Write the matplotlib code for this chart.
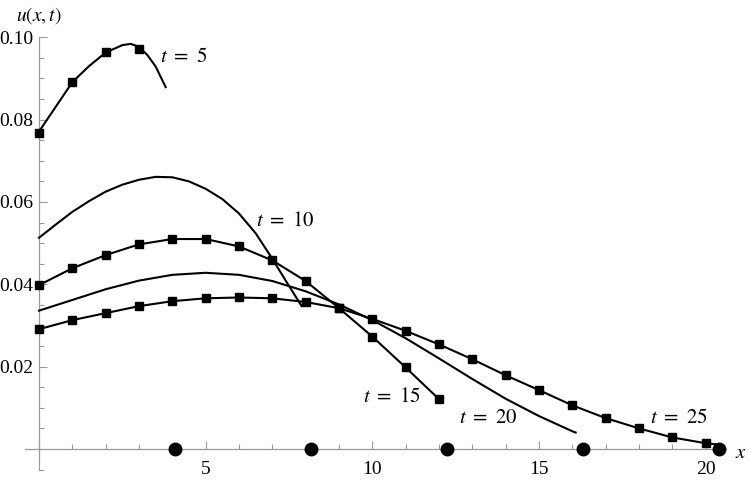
import matplotlib
matplotlib.use("Agg")
import matplotlib.pyplot as plt
from matplotlib.ticker import FixedLocator

plt.rcParams['font.family'] = 'serif'
plt.rcParams['font.serif'] = ['Liberation Serif', 'DejaVu Serif']
plt.rcParams['mathtext.fontset'] = 'stix'

# ---- data ----
# t = 5 : numerical squares and analytic curve
x_sq5 = [0, 1, 2, 3]
u_sq5 = [0.0768, 0.0891, 0.0965, 0.0971]
x_c5 = [0, 0.5, 1, 1.5, 2, 2.5, 2.75, 3, 3.25, 3.5, 3.8]
u_c5 = [0.0771, 0.0831, 0.0891, 0.0930, 0.0963, 0.0981, 0.0984, 0.0977, 0.0957, 0.0929, 0.0879]

# t = 10 : curve only
x_c10 = [0, 0.5, 1, 1.5, 2, 2.5, 3, 3.5, 4, 4.5, 5, 5.5, 6, 6.5, 7, 7.5, 7.88]
u_c10 = [0.0513, 0.0545, 0.0576, 0.0602, 0.0625, 0.0642, 0.0654, 0.0661, 0.0660,
         0.0650, 0.0632, 0.0607, 0.0572, 0.0524, 0.0462, 0.0396, 0.0347]

# t = 15 : squares joined by line
x_sq15 = [0, 1, 2, 3, 4, 5, 6, 7, 8, 9, 10, 11, 12]
u_sq15 = [0.0398, 0.0439, 0.0471, 0.0497, 0.0510, 0.0510, 0.0492, 0.0458,
          0.0408, 0.0342, 0.0273, 0.0198, 0.0121]

# t = 20 : curve only
x_c20 = [0, 1, 2, 3, 4, 5, 6, 7, 8, 9, 10, 11, 12, 13, 14, 15, 16, 16.1]
u_c20 = [0.0336, 0.0362, 0.0388, 0.0409, 0.0423, 0.0428, 0.0423, 0.0408, 0.0383,
         0.0351, 0.0313, 0.0269, 0.0220, 0.0170, 0.0122, 0.0080, 0.0043, 0.0040]

# t = 25 : squares joined by line (line runs slightly past last square)
x_sq25 = list(range(21))
u_sq25 = [0.0291, 0.0313, 0.0330, 0.0347, 0.0359, 0.0366, 0.0368, 0.0366, 0.0357,
          0.0342, 0.0316, 0.0287, 0.0254, 0.0218, 0.0179, 0.0143, 0.0106, 0.0075,
          0.0050, 0.0028, 0.0014]
x_tail25 = [20, 20.35]
u_tail25 = [0.0014, 0.0011]

# front positions on the x axis
x_front = [4.08, 8.16, 12.24, 16.32, 20.4]
u_front = [0, 0, 0, 0, 0]

labels = ['$t\\,\\,=\\,\\,5$', '$t\\,\\,=\\,\\,10$', '$t\\,\\,=\\,\\,15$',
          '$t\\,\\,=\\,\\,20$', '$t\\,\\,=\\,\\,25$']
label_x = [4.335, 7.395, 10.575, 13.485, 19.185]
label_u = [0.0952, 0.0552, 0.0126, 0.0073, 0.0073]

xticks_major = [0, 5, 10, 15, 20]
xtick_labels = ['', '5', '10', '15', '20']
yticks_major = [0.02, 0.04, 0.06, 0.08, 0.10]
ytick_labels = ['0.02', '0.04', '0.06', '0.08', '0.10']

# ---- figure ----
fig = plt.figure(figsize=(7.5, 4.82), dpi=100)
ax = fig.add_axes([0, 0, 1, 1])
ax.set_xlim(-1.17, 21.33)
ax.set_ylim(-0.00802, 0.10906)

lw = 1.5
ms = 5.2
ax.plot(x_c5, u_c5, color='black', lw=lw)
ax.plot(x_sq5, u_sq5, 's', color='black', ms=ms)
ax.plot(x_c10, u_c10, color='black', lw=lw)
ax.plot(x_sq15, u_sq15, '-s', color='black', lw=lw, ms=ms)
ax.plot(x_c20, u_c20, color='black', lw=lw)
ax.plot(x_sq25, u_sq25, '-s', color='black', lw=lw, ms=ms)
ax.plot(x_tail25, u_tail25, color='black', lw=lw)
ax.plot(x_front, u_front, 'o', color='black', ms=9, zorder=5, clip_on=False)

for s, lx, ly in zip(labels, label_x, label_u):
    ax.text(lx, ly, s, fontsize=15, ha='center', va='center')

# axes through the origin
for side in ['top', 'right']:
    ax.spines[side].set_visible(False)
ax.spines['left'].set_position(('data', 0))
ax.spines['bottom'].set_position(('data', 0))
ax.spines['left'].set_bounds(-0.005, 0.1)
ax.spines['bottom'].set_bounds(-0.42, 20.6)
axis_gray = '#9a9a9a'
for side in ['left', 'bottom']:
    ax.spines[side].set_color(axis_gray)
    ax.spines[side].set_linewidth(0.9)
    ax.spines[side].set_zorder(0.5)

ax.xaxis.set_major_locator(FixedLocator(xticks_major))
ax.set_xticklabels(xtick_labels)
ax.xaxis.set_minor_locator(FixedLocator([i for i in range(21) if i % 5 != 0]))
ax.yaxis.set_major_locator(FixedLocator(yticks_major))
ax.set_yticklabels(ytick_labels)
ax.yaxis.set_minor_locator(FixedLocator([k * 0.005 for k in range(-1, 20) if k % 4 != 0 or k == 0]))

ax.tick_params(axis='both', which='major', direction='in', length=6, width=0.8,
               color=axis_gray, labelsize=14, labelcolor='black')
ax.tick_params(axis='both', which='minor', direction='in', length=3.6, width=0.8,
               color=axis_gray)
ax.tick_params(axis='x', which='major', pad=9)
ax.tick_params(axis='y', which='major', pad=4)

ax.text(0, 0.1052, '$u(x,t)$', fontsize=14, ha='center', va='center')
ax.text(21.05, -0.001, '$x$', fontsize=15, ha='center', va='center')

fig.savefig('out.png', dpi=100)
